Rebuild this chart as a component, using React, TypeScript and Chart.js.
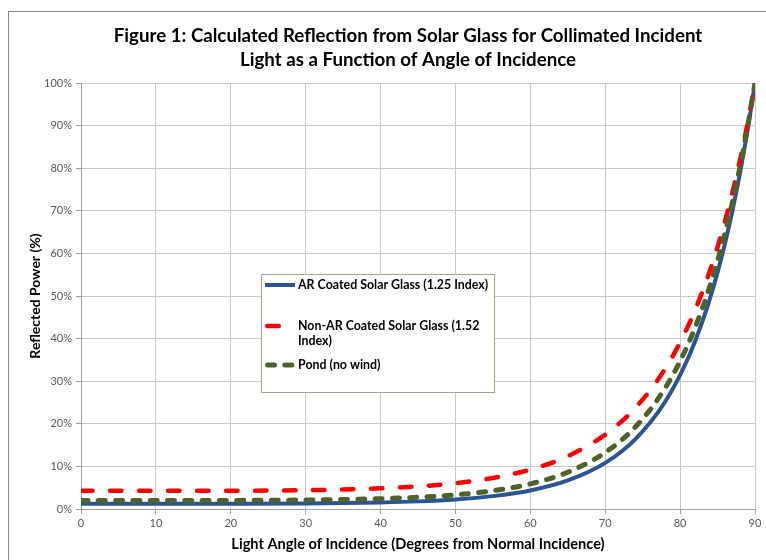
import React, { useEffect, useRef } from 'react';
import { Chart, registerables } from 'chart.js';

Chart.register(...registerables);

const TITLE_LINES = [
  'Figure 1: Calculated Reflection from Solar Glass for Collimated Incident',
  'Light as a Function of Angle of Incidence',
];
const X_TITLE = 'Light Angle of Incidence (Degrees from Normal Incidence)';
const Y_TITLE = 'Reflected Power (%)';

// angle of incidence (degrees)
const angles = [0, 10, 20, 30, 40, 45, 50, 55, 60, 65, 70, 74, 78, 81, 83, 84, 85, 86, 87, 88, 89, 90];
// reflected power (%)
const arCoated = [1.23, 1.24, 1.25, 1.31, 1.54, 1.79, 2.24, 3.02, 4.36, 6.7, 10.83, 16.35, 25.17, 35.16, 44.13, 49.5, 55.55, 62.4, 70.13, 78.89, 88.79, 100];
const nonArCoated = [4.26, 4.26, 4.29, 4.41, 4.85, 5.3, 6.06, 7.28, 9.25, 12.4, 17.47, 23.7, 32.91, 42.69, 51.11, 56.02, 61.49, 67.58, 74.38, 81.97, 90.47, 100];
const pond = [2.01, 2.01, 2.02, 2.11, 2.42, 2.75, 3.32, 4.29, 5.91, 8.64, 13.27, 19.21, 28.37, 38.42, 47.23, 52.44, 58.27, 64.81, 72.13, 80.36, 89.61, 100];

const seriesNames = [
  'AR Coated Solar Glass (1.25 Index)',
  'Non-AR Coated Solar Glass (1.52 Index)',
  'Pond (no wind)',
];

const xTicks = [0, 10, 20, 30, 40, 50, 60, 70, 80, 90];
const yTicks = [0, 10, 20, 30, 40, 50, 60, 70, 80, 90, 100];

const toPoints = (vals: number[]) => angles.map((a, i) => ({ x: a, y: vals[i] }));

const titlePlugin = {
  id: 'customTitle',
  afterDraw(chart: any) {
    const ctx = chart.ctx;
    ctx.save();
    ctx.font = 'bold 18.7px Lato';
    ctx.fillStyle = '#000000';
    ctx.textAlign = 'center';
    ctx.textBaseline = 'middle';
    TITLE_LINES.forEach((line, i) => ctx.fillText(line, 408, 36 + i * 24));
    ctx.restore();
  },
};

const legendPlugin = {
  id: 'boxLegend',
  afterDatasetsDraw(chart: any) {
    const ctx = chart.ctx;
    const bx = 261, by = 274, bw = 233, bh = 118;
    ctx.save();
    ctx.fillStyle = '#ffffff';
    ctx.fillRect(bx, by, bw, bh);
    ctx.strokeStyle = '#a3aa7f';
    ctx.lineWidth = 1;
    ctx.strokeRect(bx + 0.5, by + 0.5, bw, bh);
    ctx.font = 'bold 12.4px Lato';
    ctx.textBaseline = 'middle';
    ctx.textAlign = 'left';
    const rowY = [285, 326, 365];
    const maxW = 200;
    chart.data.datasets.forEach((ds: any, i: number) => {
      const y = rowY[i];
      ctx.save();
      ctx.strokeStyle = ds.borderColor;
      ctx.lineWidth = ds.borderWidth;
      ctx.lineCap = ds.borderCapStyle || 'butt';
      ctx.setLineDash(ds.borderDash || []);
      ctx.lineDashOffset = 0;
      ctx.beginPath();
      const x0 = 265 + (ds.borderCapStyle === 'round' ? ds.borderWidth / 2 : 0);
      const x1 = 295 - (ds.borderCapStyle === 'round' ? ds.borderWidth / 2 : 0);
      ctx.moveTo(x0, y);
      ctx.lineTo(x1, y);
      ctx.stroke();
      ctx.restore();
      ctx.fillStyle = '#000000';
      const words = String(ds.label).split(' ');
      const lines: string[] = [];
      let cur = '';
      words.forEach((w) => {
        const test = cur ? cur + ' ' + w : w;
        if (ctx.measureText(test).width > maxW && cur) {
          lines.push(cur);
          cur = w;
        } else cur = test;
      });
      if (cur) lines.push(cur);
      lines.forEach((l, j) => ctx.fillText(l, 298, y + j * 15));
    });
    ctx.restore();
  },
};

export default function App() {
  const ref = useRef<HTMLCanvasElement | null>(null);
  useEffect(() => {
    if (!ref.current) return;
    const chart = new Chart(ref.current, {
      type: 'line',
      data: {
        datasets: [
          {
            label: seriesNames[0],
            data: toPoints(arCoated),
            borderColor: '#2b5494',
            borderWidth: 4,
            borderCapStyle: 'butt',
            pointRadius: 0,
            cubicInterpolationMode: 'monotone',
            fill: false,
            order: 2,
          },
          {
            label: seriesNames[1],
            data: toPoints(nonArCoated),
            borderColor: '#ff0000',
            borderWidth: 4.5,
            borderDash: [11.5, 17.5],
            borderCapStyle: 'round',
            pointRadius: 0,
            cubicInterpolationMode: 'monotone',
            fill: false,
            order: 1,
          },
          {
            label: seriesNames[2],
            data: toPoints(pond),
            borderColor: '#4f6228',
            borderWidth: 5,
            borderDash: [7, 10.3],
            borderCapStyle: 'round',
            pointRadius: 0,
            cubicInterpolationMode: 'monotone',
            fill: false,
            order: 0,
          },
        ] as any,
      },
      options: {
        animation: false,
        responsive: false,
        layout: { padding: { left: 10, right: 11, top: 83, bottom: 0 } },
        plugins: {
          legend: { display: false },
          title: { display: false },
          tooltip: { enabled: false },
        },
        scales: {
          x: {
            type: 'linear',
            min: 0,
            max: 90,
            afterBuildTicks: (scale: any) => {
              scale.ticks = xTicks.map((v) => ({ value: v }));
            },
            afterFit: (scale: any) => {
              scale.height = 51;
            },
            ticks: {
              color: '#595959',
              font: { family: 'Lato', size: 11 },
              padding: 3,
              maxRotation: 0,
            },
            grid: { color: '#c9c9c9', tickColor: '#a0a0a0', tickLength: 5, drawTicks: true },
            border: { color: '#a0a0a0' },
            title: {
              display: true,
              text: X_TITLE,
              color: '#000000',
              font: { family: 'Lato', size: 14.6, weight: 'bold' },
              padding: { top: 4, bottom: 7 },
            },
          },
          y: {
            type: 'linear',
            min: 0,
            max: 100,
            afterBuildTicks: (scale: any) => {
              scale.ticks = yTicks.map((v) => ({ value: v }));
            },
            afterFit: (scale: any) => {
              scale.width = 71;
            },
            ticks: {
              color: '#595959',
              font: { family: 'Lato', size: 11 },
              padding: 4,
              callback: (v: any) => v + '%',
            },
            grid: { color: '#c9c9c9', tickColor: '#a0a0a0', tickLength: 5, drawTicks: true },
            border: { color: '#a0a0a0' },
            title: {
              display: true,
              text: Y_TITLE,
              color: '#000000',
              font: { family: 'Lato', size: 14, weight: 'bold' },
              padding: { top: 17, bottom: 4 },
            },
          },
        },
      } as any,
      plugins: [titlePlugin, legendPlugin],
    });
    return () => chart.destroy();
  }, []);
  return (
    <div style={{ position: 'relative', width: 766, height: 560, overflow: 'hidden', background: '#ffffff' }}>
      <style>{'body{margin:0;overflow:hidden;}'}</style>
      <div
        style={{
          position: 'absolute',
          left: 8,
          top: 11,
          width: 900,
          height: 700,
          borderLeft: '1px solid #8a8a8a',
          borderTop: '1px solid #8a8a8a',
        }}
      />
      <canvas ref={ref} width={766} height={560} style={{ position: 'absolute', left: 0, top: 0 }} />
    </div>
  );
}
